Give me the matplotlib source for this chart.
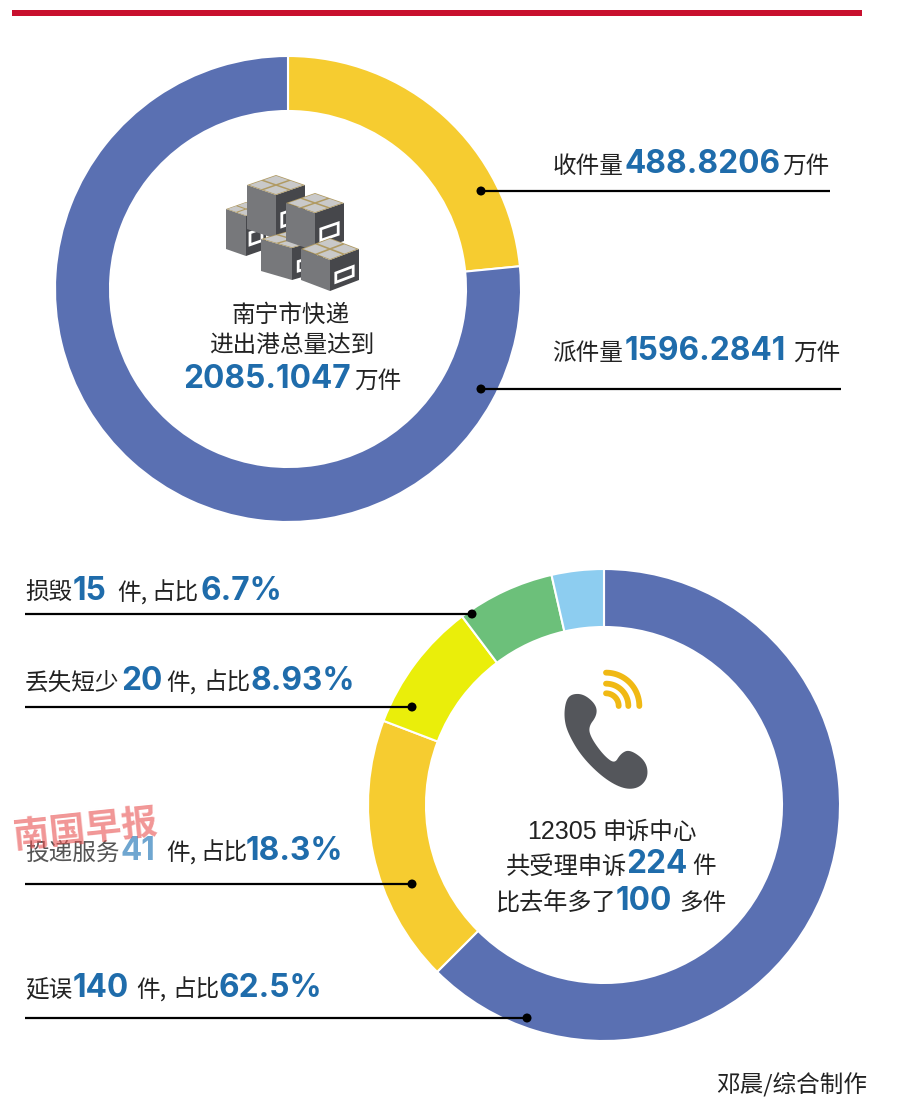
#-*- coding: utf-8 -*-
import numpy as np
import matplotlib
matplotlib.use("Agg")
import matplotlib.pyplot as plt
from matplotlib.patches import Polygon, Circle, Rectangle

plt.rcParams['font.family'] = ['Noto Sans CJK SC', 'DejaVu Sans']

W, H = 900, 1109

# 快递 data
express_labels = ["收件量", "派件量"]
express_values = [488.8206, 1596.2841]
express_colors = ["#f6cc30", "#5a70b2"]

# 申诉 data
complaint_labels = ["延误", "投递服务", "丢失短少", "损毁", "其他"]
complaint_values = [140, 41, 20, 15, 8]
complaint_colors = ["#5a70b2", "#f6cc30", "#eaee0a", "#6cc07a", "#8dcdf0"]

BLUE = "#1f6cab"
DARK = "#222222"

fig = plt.figure(figsize=(W / 100, H / 100), dpi=100, facecolor="white")


def donut(values, colors, cx, cy, r, inner):
    # one axes per ring, placed in pixel positions
    a = fig.add_axes([(cx - r) / W, 1 - (cy + r) / H, 2 * r / W, 2 * r / H])
    a.pie(values, colors=colors, radius=1, startangle=90, counterclock=False,
          wedgeprops=dict(width=1 - inner / r, edgecolor="white", linewidth=1.5))
    a.set_xlim(-1, 1)
    a.set_ylim(-1, 1)
    a.axis("off")


donut(express_values, express_colors, 288, 289, 233, 178)
donut(complaint_values, complaint_colors, 604, 805, 236, 178)

# overlay in pixel coordinates
ax = fig.add_axes([0, 0, 1, 1], zorder=5)
ax.set_xlim(0, W)
ax.set_ylim(H, 0)
ax.axis("off")
ax.patch.set_alpha(0)

ax.add_patch(Rectangle((12, 10), 850, 6, color="#c8102e", lw=0))


def cjk(x, y, s, size=17, ha="left", color=DARK):
    ax.text(x - 1, y + 1.5, s, fontsize=size, ha=ha, va="center", color=color,
            family=['Noto Sans CJK SC', 'DejaVu Sans'])


def num(x, y, s, size=22.8, color=BLUE):
    ax.text(x - 2, y + 1.5, s, fontsize=size, ha="left", va="center", color=color,
            family="Inter", fontweight="bold")


def leader(x0, x1, y, dot_x):
    ax.plot([x0, x1], [y, y], color="black", lw=1.6, solid_capstyle="butt")
    ax.add_patch(Circle((dot_x, y), 4.5, color="black", lw=0))


# right labels, top ring
cjk(554, 165, express_labels[0])
num(626, 163, "488.8206")
cjk(783, 165, "万件")
leader(481, 830, 191, 481)

cjk(553, 352, express_labels[1])
num(627, 350, "1596.2841")
cjk(794, 352, "万件")
leader(481, 841, 389, 481)

# centre of the top ring
cjk(292, 314, "南宁市快递", ha="center")
cjk(293, 344, "进出港总量达到", ha="center")
num(185, 378, "2085.1047")
cjk(355, 380, "万件")

# left labels, bottom ring
cjk(26, 592, "损毁")
num(75, 590, "15")
cjk(118, 592, "件,")
cjk(152, 592, "占比")
num(202, 590, "6.7%")
leader(25, 472, 614, 472)

cjk(26, 682, "丢失短少")
num(123, 680, "20")
cjk(167, 682, "件,")
cjk(204, 682, "占比")
num(253, 680, "8.93%")
leader(25, 412, 707, 412)

cjk(26, 852, "投递服务", color="#555555")
num(122, 850, "41", color="#6fa6d0")
cjk(167, 852, "件,")
cjk(201, 852, "占比")
num(248, 850, "18.3%")
leader(25, 412, 884, 412)

cjk(26, 989, "延误")
num(75, 987, "140")
cjk(137, 989, "件,")
cjk(173, 989, "占比")
num(221, 987, "62.5%")
leader(25, 527, 1018, 527)

# centre of the bottom ring
ax.text(527, 832, "12305", fontsize=18, ha="left", va="center", color=DARK, family="Liberation Sans")
cjk(603, 831, "申诉中心")
cjk(507, 865, "共受理申诉", size=17.5)
num(628, 863, "224")
cjk(693, 865, "件")
cjk(497, 902, "比去年多了", size=17.4)
num(618, 900, "100")
cjk(680, 902, "多件")

cjk(868, 1083, "邓晨/综合制作", ha="right", size=17)

# watermark
ax.text(85, 830, "南国早报", fontsize=26, ha="center", va="center", color="#e8504f",
        alpha=0.6, rotation=6, fontweight="bold", zorder=6,
        family=['Noto Sans CJK SC', 'DejaVu Sans'])


# icon: stack of boxes
def box(cx, top, hw, hh, h, label=True):
    left = (cx - hw, top + hh)
    front = (cx, top + 2 * hh)
    right = (cx + hw, top + hh)
    back = (cx, top)
    ax.add_patch(Polygon([left, front, (cx, top + 2 * hh + h), (cx - hw, top + hh + h)],
                         color="#77787b", lw=0))
    ax.add_patch(Polygon([front, right, (cx + hw, top + hh + h), (cx, top + 2 * hh + h)],
                         color="#46474b", lw=0))
    ax.add_patch(Polygon([back, right, front, left], color="#b09a62", lw=0))
    for i, j in [(0, 0), (1, 0), (0, 1), (1, 1)]:
        ox = (i - j) * hw * 0.5
        oy = (i + j) * hh * 0.5
        t = 0.42
        ax.add_patch(Polygon([(cx + ox, top + oy + hh * 0.08),
                              (cx + ox + hw * t, top + oy + hh * (0.08 + t)),
                              (cx + ox, top + oy + hh * (0.08 + 2 * t)),
                              (cx + ox - hw * t, top + oy + hh * (0.08 + t))],
                             color="#c9c9c9", lw=0))
    if label:
        lx = cx + hw * 0.2
        lw_ = hw * 0.6
        ly = top + 2 * hh + h * 0.42
        slope = -hh / hw
        ax.add_patch(Polygon([(lx, ly), (lx + lw_, ly + slope * lw_),
                              (lx + lw_, ly + slope * lw_ + h * 0.3), (lx, ly + h * 0.3)],
                             facecolor="none", edgecolor="white", lw=2))


box(246, 202, 20, 7, 40)
box(276, 175, 29, 10, 44)
box(292, 230, 31, 9, 32)
box(315, 193, 29, 10, 38)
box(330, 238, 29, 11, 31)


# icon: phone, corners rounded off by repeated cutting
def smooth(pts, n=3):
    for _ in range(n):
        nxt = np.roll(pts, -1, axis=0)
        pts = np.vstack([np.c_[0.75 * pts + 0.25 * nxt], np.c_[0.25 * pts + 0.75 * nxt]])
        order = np.arange(len(pts)).reshape(2, -1).T.ravel()
        pts = pts[order]
    return pts


phone_x = np.array([95, 130, 165, 168, 142, 150, 190, 225, 245, 270, 315, 322, 295, 250, 190, 125, 85, 75, 80])
phone_y = np.array([105, 105, 135, 165, 200, 235, 290, 315, 282, 272, 305, 350, 382, 384, 350, 285, 215, 170, 125])
phone = smooth(np.c_[540 + phone_x / 3, 660 + phone_y / 3])
ax.add_patch(Polygon(phone, facecolor="#54565b", edgecolor="#54565b", lw=1.5, joinstyle="round"))
for r in [100, 67, 38]:
    t = np.linspace(0, np.pi / 2, 30)
    ax.plot(540 + (198 + r * np.sin(t)) / 3, 660 + (138 - r * np.cos(t)) / 3,
            color="#f0b914", lw=4.2, solid_capstyle="round")

fig.savefig("out.png", dpi=100)
